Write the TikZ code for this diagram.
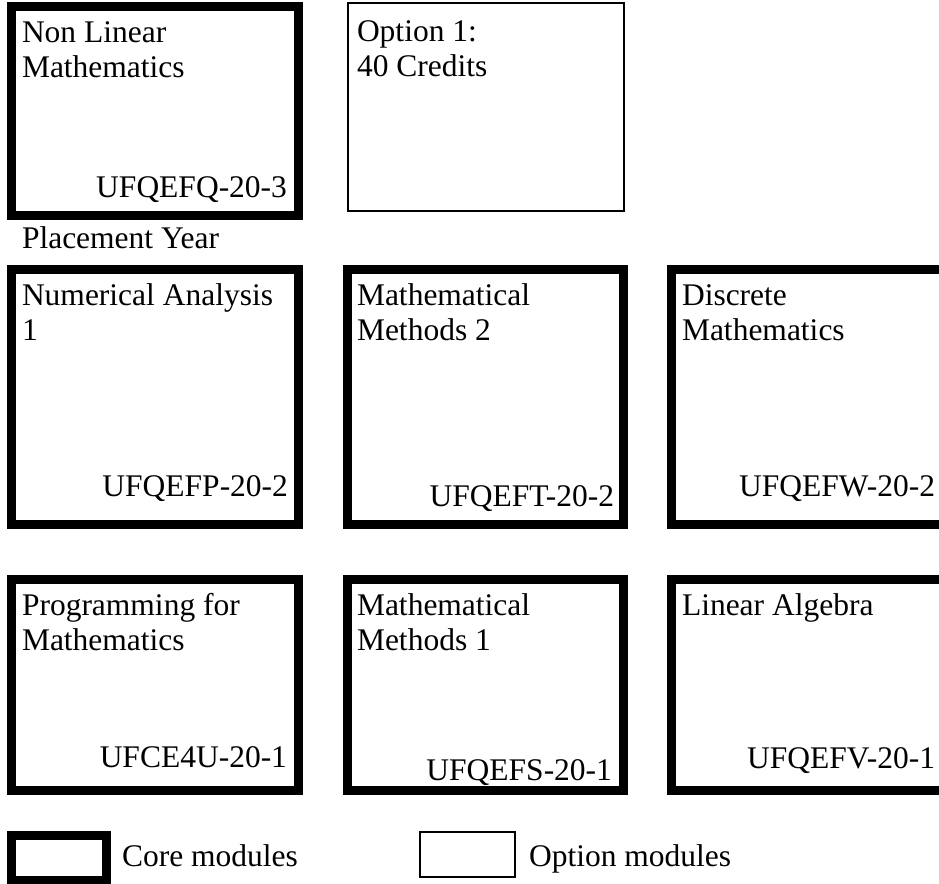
\documentclass[tikz,border=0pt]{standalone}
\usepackage{fontspec}
\setmainfont{Liberation Serif}
\usetikzlibrary{positioning}

\begin{document}
\begin{tikzpicture}[x=1pt,y=1pt]
	\tikzstyle{every node} = [inner sep=0, outer sep=0, font=\fontsize{31.5}{35}\selectfont]
	\tikzstyle{core} = [draw, line width=9pt, rectangle]
	\tikzstyle{opt} = [draw, line width=1.5pt, rectangle]
	\tikzstyle{title} = [anchor=north west, align=left]
	\tikzstyle{code} = [anchor=base east]
	\useasboundingbox (0,0) rectangle (939,-883);

	% year 3
	\node[core, minimum width=287pt, minimum height=209pt] (nlm) at (155,-111) {}; \node[opt, minimum width=276pt, minimum height=208pt] (opt1) at (486,-107) {};
	\node[title] (nlmt) at ([shift={(10.5,-12)}]nlm.north west) {\strut Non Linear\\Mathematics}; \node[code] (nlmc) at ([shift={(-11.5,18.5)}]nlm.south east) {UFQEFQ-20-3};
	\node[title] (opt1t) at ([shift={(9,-14.5)}]opt1.north west) {\strut Option 1:\\40 Credits};
	\node[anchor=base west] (place) at ([shift={(10.5,-32.5)}]nlm.south west) {Placement Year};

	% year 2
	\node[core, minimum width=287pt, minimum height=255pt] (na1) at (155,-397) {}; \node[core, minimum width=276pt, minimum height=255pt] (mm2) at (485.5,-397) {}; \node[core, minimum width=275.5pt, minimum height=255pt] (dm) at (809.25,-397) {};
	\node[title] (na1t) at ([shift={(10.5,-11)}]na1.north west) {\strut Numerical Analysis\\1}; \node[code] (na1c) at ([shift={(-10.5,28.5)}]na1.south east) {UFQEFP-20-2};
	\node[title] (mm2t) at ([shift={(9.5,-11)}]mm2.north west) {\strut Mathematical\\Methods 2}; \node[code] (mm2c) at ([shift={(-9.5,18.5)}]mm2.south east) {UFQEFT-20-2};
	\node[title] (dmt) at ([shift={(10.5,-11)}]dm.north west) {\strut Discrete\\Mathematics}; \node[code] (dmc) at ([shift={(-12,28.5)}]dm.south east) {UFQEFW-20-2};

	% year 1
	\node[core, minimum width=287pt, minimum height=211pt] (pfm) at (155,-685) {}; \node[core, minimum width=276pt, minimum height=211pt] (mm1) at (485.5,-685) {}; \node[core, minimum width=275.5pt, minimum height=211pt] (la) at (809.25,-685) {};
	\node[title] (pfmt) at ([shift={(10.5,-11)}]pfm.north west) {\strut Programming for\\Mathematics}; \node[code] (pfmc) at ([shift={(-11.5,23.5)}]pfm.south east) {UFCE4U-20-1};
	\node[title] (mm1t) at ([shift={(9.5,-11)}]mm1.north west) {\strut Mathematical\\Methods 1}; \node[code] (mm1c) at ([shift={(-11.5,10.5)}]mm1.south east) {UFQEFS-20-1};
	\node[title] (lat) at ([shift={(10.5,-11)}]la.north west) {\strut Linear Algebra}; \node[code] (lac) at ([shift={(-12,22.5)}]la.south east) {UFQEFV-20-1};

	% key
	\node[core, minimum width=95pt, minimum height=45pt] (keycore) at (59,-858) {}; \node[anchor=base west] (keycoret) at (122,-866.5) {Core modules};
	\node[opt, minimum width=95pt, minimum height=45pt] (keyopt) at (467.5,-854.5) {}; \node[anchor=base west] (keyoptt) at (529,-866.5) {Option modules};
\end{tikzpicture}
\end{document}
